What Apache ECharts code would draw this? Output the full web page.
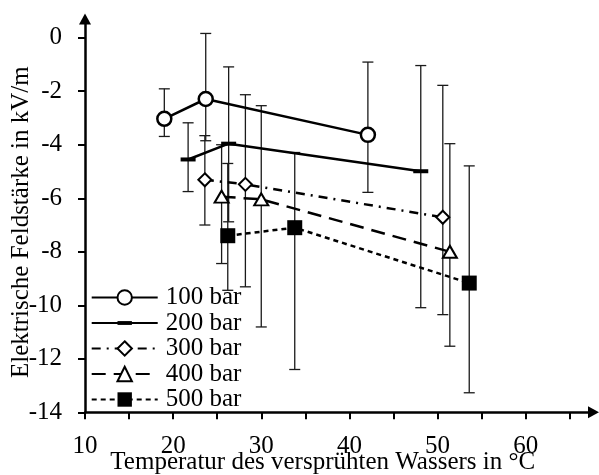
<!DOCTYPE html>
<html><head><meta charset="utf-8">
<script src="https://cdn.jsdelivr.net/npm/echarts@6/dist/echarts.min.js"></script>
<style>html,body{margin:0;padding:0;background:#fff}#c{width:599px;height:475px}</style>
</head><body><div id="c"></div>
<script>
// ---- data ----
const seriesNames = ['100 bar', '200 bar', '300 bar', '400 bar', '500 bar'];

const temp100  = [19.0, 23.7, 42.1];
const field100 = [-3.03, -2.29, -3.63];
const low100   = [-3.69, -3.85, -5.78];
const high100  = [-1.91, 0.16, -0.91];

const temp200  = [21.7, 26.3, 48.1];
const field200 = [-4.55, -3.96, -4.99];
const low200   = [-5.75, -6.88, -10.09];
const high200  = [-3.18, -1.09, -1.04];

const temp300  = [23.6, 28.2, 50.6];
const field300 = [-5.31, -5.48, -6.71];
const low300   = [-7.0, -9.31, -10.35];
const high300  = [-3.66, -2.13, -1.78];

const temp400  = [25.5, 30.0, 51.4];
const field400 = [-5.94, -6.04, -8.0];
const low400   = [-8.44, -10.81, -11.53];
const high400  = [-4.0, -2.54, -3.96];

const temp500  = [26.2, 33.8, 53.6];
const field500 = [-7.4, -7.10, -9.17];
const low500   = [-9.44, -12.4, -13.27];
const high500  = [-4.70, -4.29, -4.79];

const xTicks  = [10, 15, 20, 25, 30, 35, 40, 45, 50, 55, 60, 65];
const xLabels = [10, 20, 30, 40, 50, 60];
const yTicks  = [-14, -12, -10, -8, -6, -4, -2, 0];

const xTitle = 'Temperatur des versprühten Wassers in °C';
const yTitle = 'Elektrische Feldstärke in kV/m';

// ---- chart ----
const FONT = '"Liberation Serif", "Times New Roman", serif';
const FS = 25;
const zip2 = (a, b) => a.map((v, i) => [v, b[i]]);
const zip3 = (a, b, c) => a.map((v, i) => [v, b[i], c[i]]);

function renderErr(params, api) {
  const x = api.value(0), lo = api.value(1), hi = api.value(2);
  const pLo = api.coord([x, lo]), pHi = api.coord([x, hi]);
  const w = 5.5;
  const st = { stroke: '#1a1a1a', lineWidth: 1.3 };
  return {
    type: 'group',
    children: [
      { type: 'line', shape: { x1: pLo[0], y1: pLo[1], x2: pHi[0], y2: pHi[1] }, style: st },
      { type: 'line', shape: { x1: pLo[0] - w, y1: pLo[1], x2: pLo[0] + w, y2: pLo[1] }, style: st },
      { type: 'line', shape: { x1: pHi[0] - w, y1: pHi[1], x2: pHi[0] + w, y2: pHi[1] }, style: st }
    ]
  };
}

const dashSymbol = 'path://M0,0M15,15M0,5.5L15,5.5L15,9.5L0,9.5Z';

const styles = [
  { symbol: 'circle', symbolSize: 14, itemStyle: { color: '#fff', borderColor: '#000', borderWidth: 2.5 }, type: 'solid' },
  { symbol: dashSymbol, symbolSize: 15, itemStyle: { color: '#000', borderWidth: 0 }, type: 'solid' },
  { symbol: 'diamond', symbolSize: [13, 13], itemStyle: { color: '#fff', borderColor: '#000', borderWidth: 2 }, type: [9, 6, 2, 6] },
  { symbol: 'triangle', symbolSize: [14, 12], itemStyle: { color: '#fff', borderColor: '#000', borderWidth: 2 }, type: [14, 8] },
  { symbol: 'rect', symbolSize: 15, itemStyle: { color: '#000', borderWidth: 0 }, type: [5, 4] }
];

const temps = [temp100, temp200, temp300, temp400, temp500];
const fields = [field100, field200, field300, field400, field500];
const lows = [low100, low200, low300, low400, low500];
const highs = [high100, high200, high300, high400, high500];

const series = [];
seriesNames.forEach((name, i) => {
  series.push({
    name: 'err' + i,
    type: 'custom',
    renderItem: renderErr,
    encode: { x: 0, y: [1, 2] },
    data: zip3(temps[i], lows[i], highs[i]),
    z: 1,
    silent: true
  });
});
seriesNames.forEach((name, i) => {
  const s = styles[i];
  series.push({
    name: name,
    type: 'line',
    data: zip2(temps[i], fields[i]),
    symbol: s.symbol,
    symbolSize: s.symbolSize,
    showAllSymbol: true,
    itemStyle: s.itemStyle,
    lineStyle: { color: '#000', width: 2.5, type: s.type },
    z: 3,
    animation: false
  });
});

const chart = echarts.init(document.getElementById('c'), null, { renderer: 'canvas' });
chart.setOption({
  animation: false,
  backgroundColor: '#fff',
  grid: { left: 85, right: 5.5, top: 19, bottom: 62.7, containLabel: false, outerBoundsMode: 'none' },
  xAxis: {
    type: 'value', min: 10, max: 67.7,
    axisLine: { show: true, onZero: false, symbol: ['none', 'triangle'], symbolSize: [12, 11],
      lineStyle: { color: '#000', width: 2.5 } },
    axisTick: { show: true, customValues: xTicks, length: 7, lineStyle: { color: '#000', width: 2 } },
    axisLabel: { customValues: xLabels, fontSize: FS, fontFamily: FONT, color: '#000', margin: 22 },
    splitLine: { show: false },
    name: xTitle, nameLocation: 'middle', nameGap: 38, nameMoveOverlap: false,
    nameTextStyle: { fontSize: FS, fontFamily: FONT, color: '#000', padding: [0, 33, 0, 0] }
  },
  yAxis: {
    type: 'value', min: -14, max: 0.7,
    axisLine: { show: true, onZero: false, symbol: ['none', 'triangle'], symbolSize: [12, 11],
      lineStyle: { color: '#000', width: 2.5 } },
    axisTick: { show: true, customValues: yTicks, length: 7, lineStyle: { color: '#000', width: 2 } },
    axisLabel: { customValues: yTicks, fontSize: FS, fontFamily: FONT, color: '#000', margin: 23 },
    splitLine: { show: false },
    name: yTitle, nameLocation: 'middle', nameGap: 51, nameRotate: 90, nameMoveOverlap: false,
    nameTextStyle: { fontSize: FS, fontFamily: FONT, color: '#000', padding: [0, 13, 0, 0] }
  },
  legend: {
    orient: 'vertical', left: 90.7, top: 285, padding: 0,
    itemWidth: 66, itemHeight: 18, itemGap: 0.5,
    data: seriesNames,
    textStyle: { fontSize: FS, fontFamily: FONT, color: '#000', padding: [0, 0, 0, 3] }
  },
  series: series
});
</script>
</body></html>
